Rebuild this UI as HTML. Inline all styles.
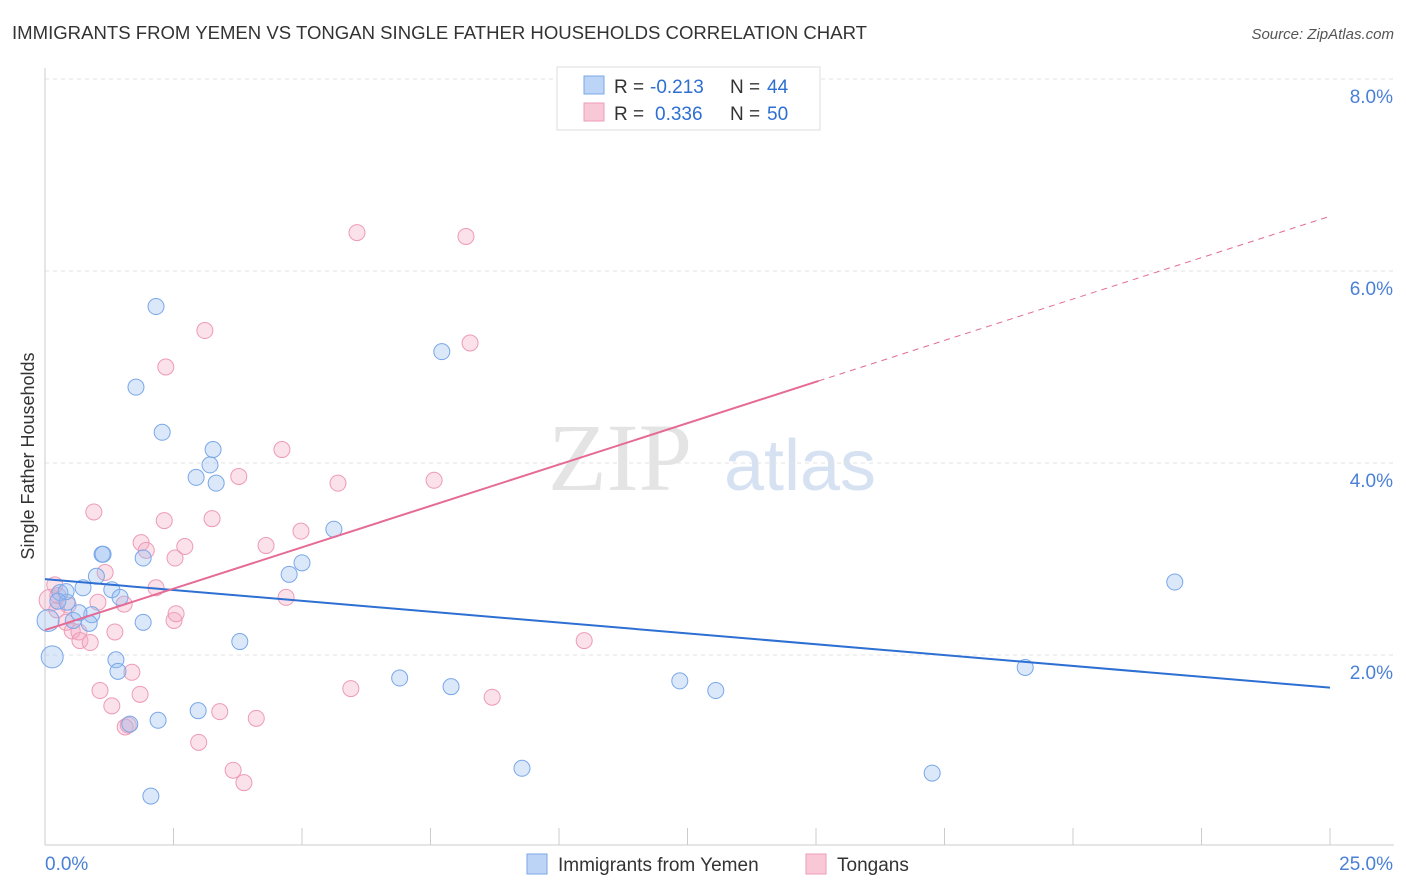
<!DOCTYPE html>
<html><head><meta charset="utf-8"><style>
body{margin:0;background:#fff;font-family:"Liberation Sans",sans-serif;}
svg{display:block}
</style></head><body>
<svg id="chart" width="1406" height="892">
<text x="12" y="39" font-size="18" fill="#333" textLength="855" lengthAdjust="spacingAndGlyphs">IMMIGRANTS FROM YEMEN VS TONGAN SINGLE FATHER HOUSEHOLDS CORRELATION CHART</text>
<text x="1394" y="39" font-size="15" fill="#555" text-anchor="end" font-style="italic">Source: ZipAtlas.com</text>
<text x="620" y="490" font-size="96" fill="#e4e4e4" font-family="Liberation Serif,serif" text-anchor="middle">ZIP</text>
<text x="800" y="490" font-size="72" fill="#d6e2f2" text-anchor="middle">atlas</text>
<g id="grid"></g><g id="axes"></g><g id="marks"></g>
<text x="34" y="456" font-size="18" fill="#333" text-anchor="middle" transform="rotate(-90 34 456)">Single Father Households</text>
<g>
<rect x="557" y="67" width="263" height="63" fill="#fff" stroke="#ddd"/>
<rect x="584" y="76" width="20" height="18" fill="#bcd4f5" stroke="#7aa7e8"/>
<text x="614" y="93" font-size="19" fill="#333">R =</text>
<text x="650" y="93" font-size="19" fill="#2d6fd2">-0.213</text>
<text x="730" y="93" font-size="19" fill="#333">N =</text>
<text x="767" y="93" font-size="19" fill="#2d6fd2">44</text>
<rect x="584" y="103" width="20" height="18" fill="#f8c8d6" stroke="#ee9bb5"/>
<text x="614" y="120" font-size="19" fill="#333">R =</text>
<text x="655" y="120" font-size="19" fill="#2d6fd2">0.336</text>
<text x="730" y="120" font-size="19" fill="#333">N =</text>
<text x="767" y="120" font-size="19" fill="#2d6fd2">50</text>
</g>
<g>
<rect x="527" y="854" width="20" height="20" fill="#bcd4f5" stroke="#7aa7e8"/>
<text x="558" y="871" font-size="19" fill="#333">Immigrants from Yemen</text>
<rect x="806" y="854" width="20" height="20" fill="#f8c8d6" stroke="#ee9bb5"/>
<text x="837" y="871" font-size="19" fill="#333">Tongans</text>
</g>
</svg>
<script>
const yTicks=[2,4,6,8];
const yTickLabels=["2.0%","4.0%","6.0%","8.0%"];
const xTickCount=10;
const blueX=[0.14,0.06,0.29,0.43,0.41,0.55,0.74,0.91,0.86,1.0,1.11,1.13,1.3,1.46,1.38,1.42,1.91,1.91,1.77,2.16,2.28,2.06,2.2,1.65,2.94,2.98,3.21,3.27,3.33,3.79,4.75,5.0,5.62,6.9,7.72,7.9,9.28,12.35,13.05,17.26,19.07,21.98,0.25,0.66];
const blueY=[1.98,2.36,2.65,2.55,2.66,2.36,2.7,2.42,2.33,2.82,3.05,3.05,2.68,2.6,1.95,1.83,3.01,2.34,4.79,5.63,4.32,0.53,1.32,1.28,3.85,1.42,3.98,4.14,3.79,2.14,2.84,2.96,3.31,1.76,5.16,1.67,0.82,1.73,1.63,0.77,1.87,2.76,2.56,2.44];
const pinkX=[0.1,0.19,0.23,0.41,0.53,0.66,0.68,0.88,0.95,1.03,1.07,1.17,1.3,1.36,1.54,1.56,1.62,1.69,1.85,1.87,1.97,2.16,2.32,2.35,2.51,2.55,2.53,2.72,2.99,3.11,3.25,3.4,3.66,3.77,3.87,4.11,4.3,4.61,4.69,4.98,5.7,5.95,6.07,7.57,8.19,8.27,8.7,10.49,0.25,0.45];
const pinkY=[2.57,2.73,2.47,2.34,2.25,2.24,2.15,2.13,3.49,2.55,1.63,2.86,1.47,2.24,2.53,1.25,1.27,1.82,1.59,3.17,3.09,2.7,3.4,5.0,2.36,2.43,3.01,3.13,1.09,5.38,3.42,1.41,0.8,3.86,0.67,1.34,3.14,4.14,2.6,3.29,3.79,1.65,6.4,3.82,6.36,5.25,1.56,2.15,2.62,2.52];
const blueTrend=[2.79,1.66];
const pinkTrend=[2.26,6.57];
const pinkSolidEnd=15.05;
const X=v=>45+v*1285/25, Y=v=>847-v*96;
const NS="http://www.w3.org/2000/svg";
function mk(parent,tag,attrs){const e=document.createElementNS(NS,tag);for(const k in attrs)e.setAttribute(k,attrs[k]);document.getElementById(parent).appendChild(e);return e;}
yTicks.forEach((t,i)=>{
 const g=mk('grid','line',{x1:45,x2:1394,y1:Y(t),y2:Y(t),stroke:'#e3e3e3','stroke-dasharray':'4,4'});
 
 
 const tx=mk('axes','text',{x:1393,y:Y(t)+24,'font-size':19,fill:'#4a80d6','text-anchor':'end'});
 tx.textContent=yTickLabels[i];
 
 
});
const ax=mk('axes','line',{x1:45,x2:1394,y1:845,y2:845,stroke:'#ccc'});


const ay=mk('axes','line',{x1:45,x2:45,y1:68,y2:845,stroke:'#ccc'});


for(let i=0;i<=xTickCount;i++){
 const l=mk('axes','line',{x1:X(i*2.5),x2:X(i*2.5),y1:828,y2:845,stroke:'#ccc'});
 
 
}
const xl0=mk('axes','text',{x:45,y:870,'font-size':19,fill:'#4a80d6'});xl0.textContent='0.0%';


const xl1=mk('axes','text',{x:1393,y:870,'font-size':19,fill:'#4a80d6','text-anchor':'end'});xl1.textContent='25.0%';


pinkX.forEach((x,i)=>{
 const c=mk('marks','circle',{cx:X(x),cy:Y(pinkY[i]),r:i==0?11:8,fill:'rgba(244,170,195,0.35)',stroke:'#ee9bb5','stroke-width':1});
 
 
});
blueX.forEach((x,i)=>{
 const c=mk('marks','circle',{cx:X(x),cy:Y(blueY[i]),r:i<2?11:8,fill:'rgba(150,190,240,0.35)',stroke:'#7aa7e8','stroke-width':1});
 
 
});
const bt=mk('marks','line',{x1:X(0),y1:Y(blueTrend[0]),x2:X(25),y2:Y(blueTrend[1]),stroke:'#2d6fd2','stroke-width':2});


const pm=(pinkTrend[1]-pinkTrend[0])/25;
const ps=mk('marks','line',{x1:X(0),y1:Y(pinkTrend[0]),x2:X(pinkSolidEnd),y2:Y(pinkTrend[0]+pm*pinkSolidEnd),stroke:'#e56b95','stroke-width':2});


const pd=mk('marks','line',{x1:X(pinkSolidEnd),y1:Y(pinkTrend[0]+pm*pinkSolidEnd),x2:X(25),y2:Y(pinkTrend[1]),stroke:'#e56b95','stroke-width':1,'stroke-dasharray':'6,5'});


</script>
</body></html>
